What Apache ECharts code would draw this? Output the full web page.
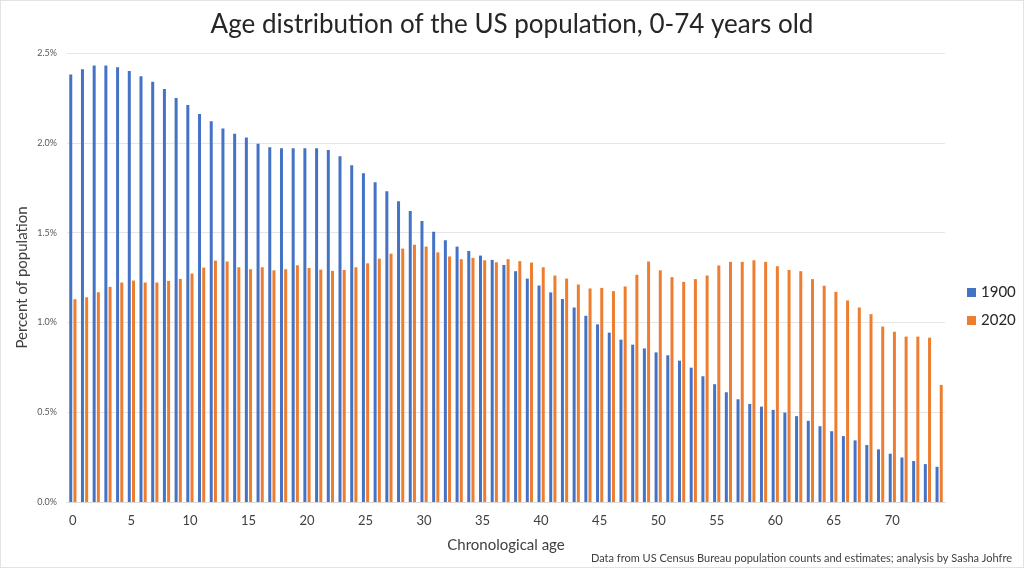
<!DOCTYPE html>
<html>
<head>
<meta charset="utf-8">
<script src="https://cdn.jsdelivr.net/npm/echarts@6/dist/echarts.min.js"></script>
<style>
  html, body { margin: 0; padding: 0; background: #fff; }
  #chart { width: 1024px; height: 568px; box-sizing: border-box; border: 1px solid #e3e3e3; }
</style>
</head>
<body>
<div id="chart"></div>
<script>
// ages 0..74
const ages = []
for (let i = 0; i <= 74; i++) ages.push(String(i))

// percent of population, 1900
const pop1900 = [
  2.38, 2.41, 2.43, 2.43, 2.42, 2.40, 2.37, 2.34, 2.30, 2.25,
  2.21, 2.16, 2.12, 2.08, 2.05, 2.03, 1.995, 1.975, 1.97, 1.97,
  1.97, 1.97, 1.96, 1.925, 1.875, 1.83, 1.78, 1.73, 1.675, 1.62,
  1.565, 1.505, 1.457, 1.422, 1.398, 1.372, 1.348, 1.32, 1.285, 1.244,
  1.205, 1.167, 1.13, 1.083, 1.037, 0.989, 0.943, 0.904, 0.876, 0.855,
  0.833, 0.817, 0.787, 0.748, 0.70, 0.656, 0.611, 0.572, 0.546, 0.531,
  0.513, 0.498, 0.478, 0.452, 0.422, 0.394, 0.367, 0.343, 0.317, 0.293,
  0.269, 0.248, 0.228, 0.211, 0.196
]

// percent of population, 2020
const pop2020 = [
  1.129, 1.14, 1.168, 1.198, 1.222, 1.233, 1.222, 1.222, 1.231, 1.242,
  1.272, 1.305, 1.344, 1.339, 1.307, 1.296, 1.307, 1.29, 1.296, 1.318,
  1.303, 1.294, 1.287, 1.292, 1.307, 1.329, 1.355, 1.383, 1.411, 1.433,
  1.422, 1.39, 1.367, 1.352, 1.359, 1.346, 1.335, 1.352, 1.341, 1.333,
  1.307, 1.261, 1.244, 1.211, 1.189, 1.192, 1.174, 1.2, 1.265, 1.339,
  1.29, 1.252, 1.226, 1.241, 1.261, 1.317, 1.337, 1.337, 1.346, 1.337,
  1.313, 1.292, 1.285, 1.241, 1.204, 1.17, 1.122, 1.083, 1.046, 0.977,
  0.948, 0.921, 0.921, 0.915, 0.652
]

const font = 'Lato, "Noto Sans", sans-serif'

let chart = echarts.init(document.getElementById('chart'))
let option = {
  animation: false,
  textStyle: { fontFamily: font },
  title: [
    {
      text: 'Age distribution of the US population, 0-74 years old',
      left: 'center',
      top: 6,
      textStyle: { fontFamily: font, fontSize: 26, fontWeight: 'normal', color: '#262626' }
    },
    {
      text: 'Data from US Census Bureau population counts and estimates; analysis by Sasha Johfre',
      right: 6,
      top: 547,
      textStyle: { fontFamily: font, fontSize: 11, fontWeight: 'normal', color: '#404040' }
    }
  ],
  legend: {
    orient: 'vertical',
    left: 961,
    top: 279,
    itemWidth: 9,
    itemHeight: 9,
    itemGap: 13,
    icon: 'rect',
    textStyle: { fontFamily: font, fontSize: 15, color: '#262626' },
    data: ['1900', '2020']
  },
  grid: {
    left: 66,
    right: 78,
    top: 52,
    bottom: 65
  },
  xAxis: {
    type: 'category',
    data: ages,
    name: 'Chronological age',
    nameLocation: 'middle',
    nameGap: 36,
    nameTextStyle: { fontFamily: font, fontSize: 15, color: '#404040' },
    axisTick: { show: false },
    axisLine: { lineStyle: { color: '#d9d9d9', width: 1 } },
    axisLabel: {
      interval: 4,
      margin: 12,
      fontSize: 13,
      color: '#404040'
    }
  },
  yAxis: {
    type: 'value',
    min: 0,
    max: 2.5,
    interval: 0.5,
    name: 'Percent of population',
    nameLocation: 'middle',
    nameGap: 37,
    nameMoveOverlap: false,
    nameTextStyle: { fontFamily: font, fontSize: 15, color: '#404040' },
    axisLine: { show: false },
    axisTick: { show: false },
    axisLabel: {
      fontSize: 9,
      color: '#595959',
      margin: 10,
      formatter: (v) => v.toFixed(1) + '%'
    },
    splitLine: { lineStyle: { color: '#e6e6e6', width: 1 } }
  },
  series: [
    {
      name: '1900',
      type: 'bar',
      barWidth: 3,
      barGap: '40%',
      itemStyle: { color: '#4472C4' },
      data: pop1900
    },
    {
      name: '2020',
      type: 'bar',
      barWidth: 3,
      barGap: '40%',
      itemStyle: { color: '#ED7D31' },
      data: pop2020
    }
  ]
}
chart.setOption(option)
</script>
</body>
</html>
